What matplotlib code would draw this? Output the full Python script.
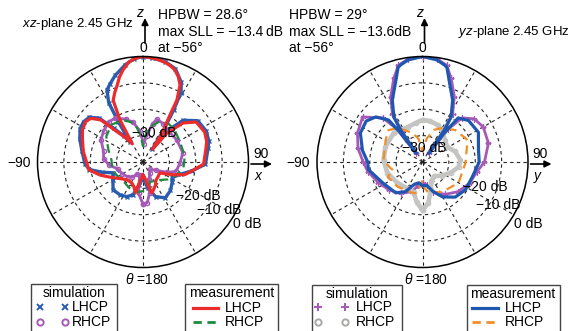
import numpy as np
import matplotlib.pyplot as plt
from matplotlib.lines import Line2D
from matplotlib.patches import Rectangle

plt.rcParams['font.family'] = ['Liberation Sans', 'DejaVu Sans']
plt.rcParams['font.size'] = 10
plt.rcParams['mathtext.fontset'] = 'custom'
plt.rcParams['mathtext.rm'] = 'Liberation Sans'
plt.rcParams['mathtext.it'] = 'Liberation Sans:italic'

M = '\u2212'

# ---- xz-plane (angles in deg, levels in dB) ----
xz_meas_lhcp_th = [-180, -172, -166, -160, -152, -140, -130, -122, -114, -107, -98, -92, -80, -69,
                   -62, -55, -50, -45, -41, -35, -30.5, -28.7, -25.8, -22, -18.6, -15.5, -12.3, -8,
                   -4, 0, 4, 8, 12.4, 16, 19.2, 22.5, 25.7, 28.7, 30, 33.7, 36.5, 39.6, 45.7, 53,
                   64, 72, 78, 92, 100, 107, 113, 123, 135, 145, 152, 158, 164, 168, 174, 180]
xz_meas_lhcp_db = [-35, -33, -28, -30, -31, -31, -30, -28.4, -26, -23, -19.2, -18.8, -17, -15.4,
                   -14, -13.4, -14.2, -17.5, -24.5, -29, -32, -21.8, -14, -11.5, -9.3, -6.6, -4.3, -1.7,
                   -0.5, 0, -0.3, -0.7, -1.3, -2.1, -3.1, -5, -7.6, -13.2, -20, -26.4, -34, -25.8, -18.8, -14.8,
                   -14, -14.6, -15.6, -17, -21, -23.5, -27.6, -32.4, -32, -31.5, -30, -29, -27.8, -31, -34, -35]

xz_meas_rhcp_th = [-180, -165, -150, -139, -120, -105, -86, -70, -55, -40, -25, -12, -5, 0, 5, 11,
                   22, 33, 45, 61, 82, 99, 112, 125, 140, 160, 172, 180]
xz_meas_rhcp_db = [-29, -28, -29, -29.5, -29, -28, -28, -26, -23, -21.5, -22.4, -25, -30, -34, -30, -26.5,
                   -23.5, -22.5, -23, -24, -24, -24.5, -26.5, -28.5, -31, -32, -30, -29]

xz_sim_lhcp_th = [-180, -170, -163, -155, -145, -133, -121, -110, -104, -98, -92, -80, -70, -62,
                  -56, -50, -45, -41, -36, -33, -31.5, -30, -26.6, -23, -17.8, -10.5, -5, 0, 5,
                  12.4, 19.2, 25.7, 28.7, 30.5, 33, 36, 39, 44, 53, 64, 72, 78, 92, 100, 108,
                  118, 125, 136, 148, 160, 170, 180]
xz_sim_lhcp_db = [-34, -31, -27, -25.5, -24.8, -24.5, -26.7, -28, -24, -19.5, -18, -16.5, -14.5, -13,
                  -12.8, -13.5, -16.5, -23, -28, -31, -22, -14, -9.5, -7.9, -5.5, -2.6, -0.7, 0, -0.4,
                  -1, -2.6, -6.5, -10, -17, -26, -34, -24, -18, -14, -13.3, -13.8, -14.8, -16.3, -21, -25,
                  -27.5, -26.5, -25, -24, -26, -30, -34]

xz_sim_rhcp_th = [-180, -172, -165, -155, -145, -135, -120, -105, -95, -85, -75, -62, -52, -40, -32,
                  -22, -14, -6, 2, 8, 14, 18, 28, 40, 57, 77, 92, 106, 113, 122, 135, 150, 160, 168,
                  174, 180]
xz_sim_rhcp_db = [-24, -28, -35, -35, -33, -32, -31, -30, -27, -25, -24.5, -22, -21, -20, -20.3,
                  -22.5, -24.5, -28, -33, -30, -25, -23, -23.5, -24.8, -24.7, -24.5, -26, -27, -30, -34, -36, -35, -33, -28,
                  -24.5, -24]

# ---- yz-plane ----
yz_meas_lhcp_th = [-180, -170, -160, -150, -139, -118, -98, -90, -79, -65, -54, -46, -39, -37, -35.3,
                   -34.3, -32.5, -26, -19, -14.5, -12.8, -8, 0, 8, 12.8, 14.5, 19, 26, 32.5, 34.3, 35.3,
                   37, 39, 48, 62, 78, 90, 107, 123, 137, 150, 160, 170, 180]
yz_meas_lhcp_db = [-31, -32, -31, -27, -24.5, -23, -19.3, -19.2, -16.8, -14, -13.6, -15.4, -19.5, -26.2, -36,
                   -25.5, -19.8, -13.9, -8.4, -3, -2.3, -0.9, 0, -0.9, -2.3, -3, -8.4, -13.9, -19.8, -25.5, -36,
                   -26, -18.5, -16.5, -16, -18.3, -18.5, -20.3, -20.6, -21.8, -24.7, -28, -31, -31]

yz_meas_rhcp_th = [-180, -170, -162, -135, -113, -106, -100, -87, -59, -47, -35, -19, -10, 0, 10, 20,
                   30.5, 46, 64, 91, 120, 146, 169, 175, 180]
yz_meas_rhcp_db = [-33, -28, -27.7, -26.7, -25.6, -28.5, -27.5, -25.2, -23.7, -22.3, -24.2, -28.4, -31, -36,
                   -31, -27, -25, -22.6, -21, -23.7, -24.2, -26.4, -28, -30, -33]

yz_sim_lhcp_th = [-180, -170, -160, -145, -130, -115, -100, -90, -78, -66, -53, -42, -38, -36, -34.5,
                  -32, -26, -19, -14, -8, 0, 8, 14, 19, 26, 32, 34.5, 36, 38, 42, 50, 60, 74, 90,
                  100, 115, 130, 145, 160, 170, 180]
yz_sim_lhcp_db = [-32, -31, -28, -25.5, -23.5, -21.5, -19, -17.5, -15, -13, -11.6, -17.5, -24, -36, -26,
                  -18.5, -12.5, -6.5, -2.2, -0.6, 0, -0.6, -2.2, -6.5, -12.5, -18.5, -26, -36, -24, -17.5, -14.5,
                  -13.4, -14, -16.5, -19, -20.5, -22.5, -25, -28, -31, -32]

yz_sim_rhcp_th = [-180, -172, -164, -150, -130, -107, -87, -68, -45, -23, -10, 0, 10, 22, 34, 45, 59,
                  72, 87, 98, 111, 125, 140, 155, 163, 172, 180]
yz_sim_rhcp_db = [-21.8, -24.5, -28, -28.5, -27.6, -26, -25.2, -24.8, -24.5, -25.6, -25, -24, -24.2, -24.8,
                  -26.4, -28, -29, -27, -25.6, -26.2, -28.6, -31, -33, -32, -29, -24.3, -21.8]

W, H = 570, 331
R = 105.5
CY = 162


def fx(x):
    return x / W


def fy(y):
    return 1 - y / H


def polar_axes(fig, cx):
    ax = fig.add_axes([fx(cx - R), fy(CY + R), 2 * R / W, 2 * R / H], projection='polar')
    ax.set_theta_zero_location('N')
    ax.set_theta_direction(-1)
    ax.set_ylim(-40, 0)
    ax.set_rgrids([-30, -20, -10])
    ax.set_thetagrids(np.arange(0, 360, 30))
    ax.set_xticklabels([])
    ax.set_yticklabels([])
    ax.tick_params(length=0)
    ax.grid(True, color='#222222', lw=0.8, ls=(0, (3, 3)))
    ax.spines['polar'].set_linewidth(1.1)
    return ax


def rad(a):
    return np.deg2rad(a)


fig = plt.figure(figsize=(W / 100, H / 100), dpi=100)

BLUE_SIM = '#2a5cb0'
PURPLE = '#a45ab6'
RED = '#ec2b2b'
GREEN = '#1d8a3c'
BLUE = '#1f57b0'
ORANGE = '#f08f2a'
GRAY = '#c4c4c2'

# left panel: xz-plane
ax1 = polar_axes(fig, 143)
ax1.plot(rad(xz_sim_lhcp_th), xz_sim_lhcp_db, color=BLUE_SIM, lw=2.4, marker='x', ms=3.5, mew=1)
ax1.plot(rad(xz_sim_rhcp_th), xz_sim_rhcp_db, color=PURPLE, lw=2.0, marker='o', ms=3, mfc='none', mew=1)
ax1.plot(rad(xz_meas_rhcp_th), xz_meas_rhcp_db, color=GREEN, lw=1.6, ls=(0, (4, 2.5)))
ax1.plot(rad(xz_meas_lhcp_th), xz_meas_lhcp_db, color=RED, lw=2.3)

# right panel: yz-plane
ax2 = polar_axes(fig, 422.5)
ax2.plot(rad(yz_sim_lhcp_th), yz_sim_lhcp_db, color=PURPLE, lw=2.0, marker='+', ms=4, mew=1)
ax2.plot(rad(yz_sim_rhcp_th), yz_sim_rhcp_db, color=GRAY, lw=3.3, marker='o', ms=3, mfc='none', mew=1)
ax2.plot(rad(yz_meas_rhcp_th), yz_meas_rhcp_db, color=ORANGE, lw=1.6, ls=(0, (4, 2.5)))
ax2.plot(rad(yz_meas_lhcp_th), yz_meas_lhcp_db, color=BLUE, lw=2.3)


def txt(x, y, s, **kw):
    kw.setdefault('ha', 'center')
    kw.setdefault('va', 'center')
    fig.text(fx(x), fy(y), s, **kw)


def arrow(x0, y0, x1, y1):
    fig.add_artist(plt.Annotation('', xy=(fx(x1), fy(y1)), xytext=(fx(x0), fy(y0)),
                                  xycoords='figure fraction', textcoords='figure fraction',
                                  arrowprops=dict(arrowstyle='-|>', color='k', lw=1.2,
                                                  mutation_scale=10, shrinkA=0, shrinkB=0)))


# axis annotations
for cx, info, plane, px, hx, lab in [
        (143, ['HPBW = 28.6\u00b0', f'max SLL = {M}13.4\u2009dB', f'at {M}56\u00b0'],
         r'$\mathit{xz}$-plane 2.45 GHz', 22, 158, 'x'),
        (422.5, ['HPBW = 29\u00b0', f'max SLL = {M}13.6dB', f'at {M}56\u00b0'],
         r'$\mathit{yz}$-plane 2.45 GHz', 458, 289, 'y')]:
    for i, line in enumerate(info):
        txt(hx, 15 + i * 16.5, line, ha='left')
    txt(px, 24 if lab == 'x' else 32, plane, ha='left', fontsize=9.5)
    txt(cx, 48, '0')
    arrow(cx + 2, 43, cx + 2, 18)
    txt(cx - 3, 13, 'z', style='italic')
    txt(cx - 124, 163, f'{M}90')
    txt(cx + 118, 154, '90')
    arrow(cx + 108, 164, cx + 129, 164)
    txt(cx + 115, 176, lab, style='italic')
    txt(cx + 4, 280, r'$\mathit{\theta}$ =180')

for (x, y), s in zip([(154, 133), (198, 196), (219, 210), (247, 224)],
                     [f'{M}30 dB', f'{M}20 dB', f'{M}10 dB', '0 dB']):
    txt(x, y, s)
for (x, y), s in zip([(424, 148), (485, 187), (498, 205), (528, 224)],
                     [f'{M}30 dB', f'{M}20 dB', f'{M}10 dB', '0 dB']):
    txt(x, y, s)


# legend boxes
def box(x0, x1, y0=284):
    fig.add_artist(Rectangle((fx(x0), fy(y0 + 60)), (x1 - x0) / W, 60 / H,
                             transform=fig.transFigure, fill=False, ec='#444444', lw=1))


def sym(x, y, **kw):
    fig.add_artist(Line2D([fx(x)], [fy(y)], transform=fig.transFigure, ls='none', **kw))


def seg(x0, x1, y, **kw):
    fig.add_artist(Line2D([fx(x0), fx(x1)], [fy(y), fy(y)], transform=fig.transFigure, **kw))


box(31, 117)
txt(74, 293, 'simulation')
for x in (40, 65):
    sym(x, 307, marker='x', ms=4.5, mew=1.4, color=BLUE_SIM)
    sym(x, 322, marker='o', ms=4.5, mew=1.4, mfc='none', color=PURPLE)
txt(72, 307, 'LHCP', ha='left')
txt(72, 322, 'RHCP', ha='left')

box(185, 278)
txt(232, 293, 'measurement')
seg(193, 218, 308, color=RED, lw=2.3)
seg(193, 218, 322, color=GREEN, lw=2.0, ls=(0, (3, 2)))
txt(225, 308, 'LHCP', ha='left')
txt(225, 322, 'RHCP', ha='left')

box(312, 402, 285)
txt(357, 294, 'simulation')
for x in (318, 345):
    sym(x, 307, marker='+', ms=6, mew=1.4, color=PURPLE)
    sym(x, 322, marker='o', ms=4.5, mew=1.4, mfc='none', color='#a8a8a6')
txt(356, 307, 'LHCP', ha='left')
txt(356, 322, 'RHCP', ha='left')

box(467, 560, 285)
txt(513, 294, 'measurement')
seg(472, 498, 308, color=BLUE, lw=2.3)
seg(472, 498, 322, color=ORANGE, lw=2.0, ls=(0, (3, 2)))
txt(505, 308, 'LHCP', ha='left')
txt(505, 322, 'RHCP', ha='left')

fig.savefig('out.png', dpi=100)
